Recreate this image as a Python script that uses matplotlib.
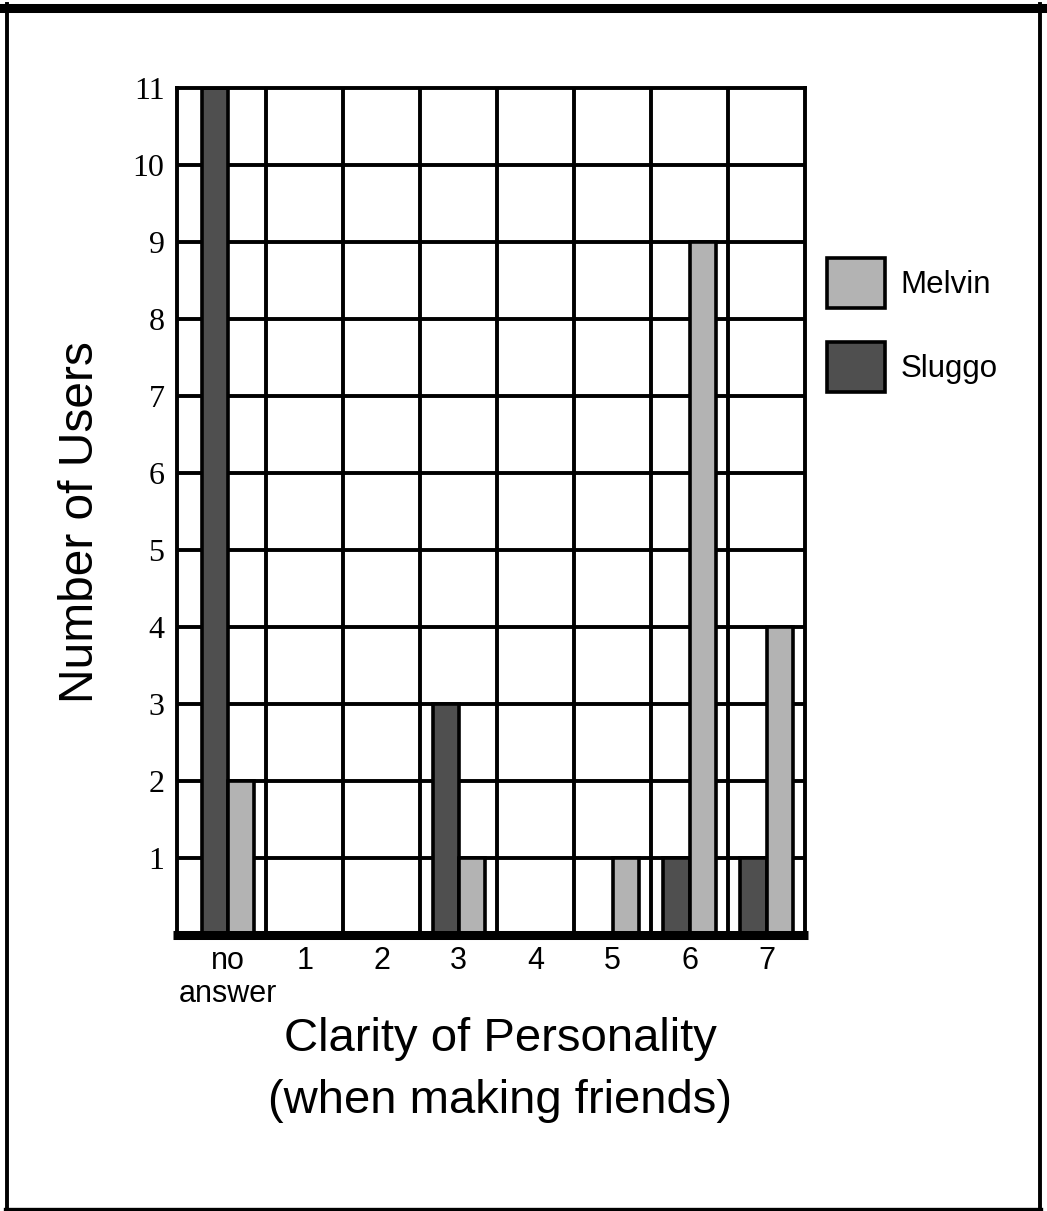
import matplotlib
matplotlib.use('Agg')
import matplotlib.pyplot as plt
from matplotlib.lines import Line2D
import numpy as np

# datos
categorias = ['no\nanswer', '1', '2', '3', '4', '5', '6', '7']
melvin = [2, 0, 0, 1, 0, 1, 9, 4]
sluggo = [11, 0, 0, 3, 0, 0, 1, 1]

oscuro = '#4f4f4f'
claro = '#b3b3b3'

fig = plt.figure(figsize=(10.47, 12.11), dpi=100)
W, H = 1047.0, 1211.0
ax = fig.add_axes([177 / W, 1 - 935 / H, (805 - 177) / W, (935 - 88) / H])

x = np.arange(len(categorias))
ancho = 0.34

# grilla
ax.vlines(np.arange(0.5, 7, 1), 0, 11, color='black', lw=2.8, zorder=1)
ax.hlines(np.arange(1, 11), -0.66, 7.5, color='black', lw=2.8, zorder=1)

ax.bar(x - ancho / 2, sluggo, ancho, color=oscuro, edgecolor='black', lw=2.6, zorder=2, label='Sluggo')
ax.bar(x + ancho / 2, melvin, ancho, color=claro, edgecolor='black', lw=2.6, zorder=2, label='Melvin')

ax.set_xlim(-0.66, 7.5)
ax.set_ylim(0, 11)
for s in ['left', 'right', 'top']:
    ax.spines[s].set_linewidth(2.8)
ax.spines['bottom'].set_visible(False)
# linea base gruesa
ax.plot([-0.71, 7.54], [0, 0], color='black', lw=6.5, clip_on=False, zorder=5, solid_capstyle='butt')

ax.set_yticks(np.arange(1, 12))
ax.set_yticklabels([str(i) for i in range(1, 12)], family='Liberation Serif', fontsize=23)
ax.set_xticks(x)
ax.set_xticklabels(categorias, family='Liberation Sans', fontsize=22, linespacing=1.12)
ax.tick_params(axis='both', length=0)
ax.tick_params(axis='y', pad=9)
ax.tick_params(axis='x', pad=8)

fig.text(81 / W, 1 - 522 / H, 'Number of Users', rotation=90, ha='center', va='center',
         family='Liberation Sans', fontsize=34.5)
fig.text(500 / W, 1 - 1070 / H, 'Clarity of Personality\n(when making friends)', ha='center', va='center',
         family='Liberation Sans', fontsize=34, linespacing=1.55)

h, l = ax.get_legend_handles_labels()
ax.legend([h[1], h[0]], [l[1], l[0]], loc='upper left', bbox_to_anchor=(827 / W, 1 - 258 / H),
          bbox_transform=fig.transFigure, frameon=False, borderpad=0, borderaxespad=0,
          handlelength=1.86, handleheight=2.08, labelspacing=1.1, handletextpad=0.5,
          prop={'family': 'Liberation Sans', 'size': 22.5})

# marco de la figura
fig.add_artist(Line2D([3 / W, 1], [1 - 7.5 / H, 1 - 7.5 / H], color='black', lw=6.5, transform=fig.transFigure))
fig.add_artist(Line2D([7 / W, 7 / W], [1 - 4 / H, 1 - 1209 / H], color='black', lw=2.8, transform=fig.transFigure))
fig.add_artist(Line2D([1039.5 / W, 1039.5 / W], [1 - 4 / H, 1 - 1209 / H], color='black', lw=2.8, transform=fig.transFigure))
fig.add_artist(Line2D([5 / W, 1041 / W], [1 - 1208.5 / H, 1 - 1208.5 / H], color='black', lw=2.4, transform=fig.transFigure))

fig.savefig('out.png', dpi=100)
